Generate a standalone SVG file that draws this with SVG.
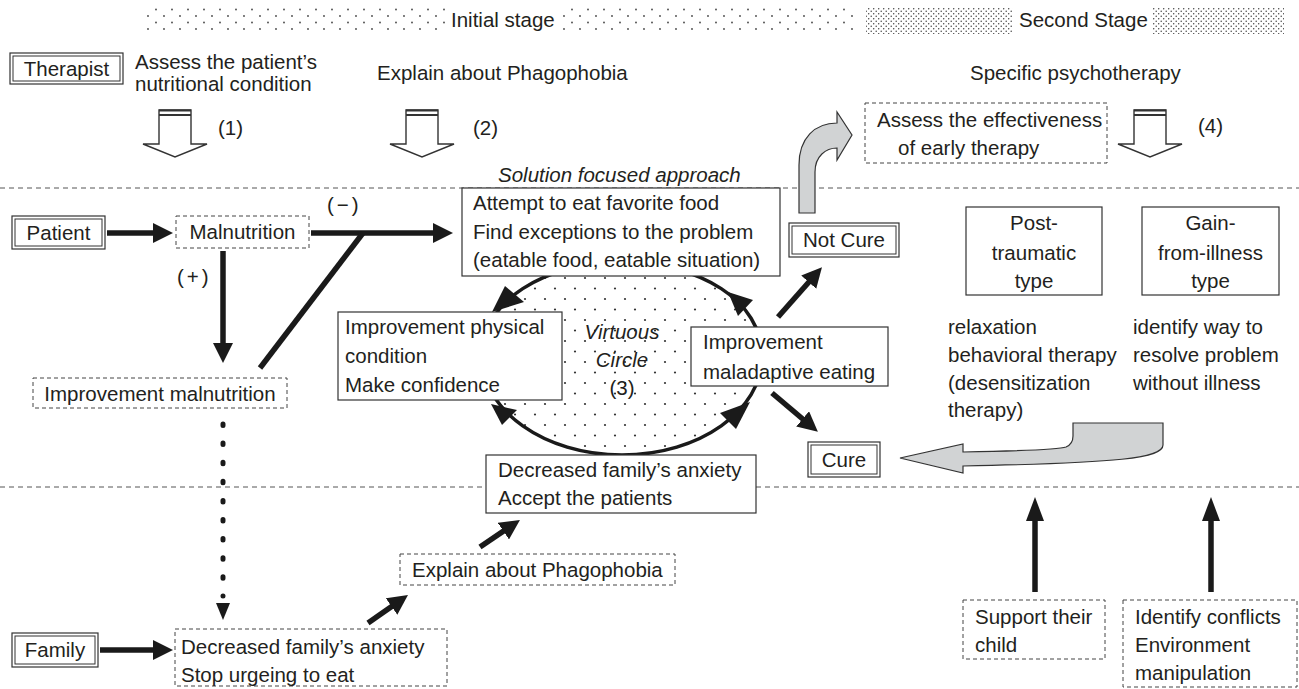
<svg xmlns="http://www.w3.org/2000/svg" width="1299" height="689" viewBox="0 0 1299 689">
<style>
.t{font-family:"Liberation Sans",Arial,sans-serif;font-size:20.5px;fill:#231f20}
.c{text-anchor:middle}
.i{font-style:italic}
.box{fill:#fff;stroke:#333;stroke-width:1.2}
.dbox{fill:#fff;stroke:#444;stroke-width:1;stroke-dasharray:4 3}
.div{stroke:#555;stroke-width:1;stroke-dasharray:5 4;fill:none}
.thick{stroke:#1a1a1a;stroke-width:5.5;fill:none}
.hollow{fill:#fff;stroke:#333;stroke-width:1.4}
.gray{fill:#d1d3d4;stroke:#333;stroke-width:1.2}
.head{fill:#1a1a1a}
</style>
<defs>
<pattern id="sparse" width="16" height="13" patternUnits="userSpaceOnUse"><circle cx="4" cy="3" r="0.9" fill="#444"/><circle cx="12" cy="9.5" r="0.9" fill="#444"/></pattern>
<pattern id="dense" width="5" height="5" patternUnits="userSpaceOnUse"><circle cx="1.2" cy="1.2" r="0.75" fill="#444"/><circle cx="3.7" cy="3.7" r="0.75" fill="#444"/></pattern>
<pattern id="circdots" width="20" height="21" patternUnits="userSpaceOnUse"><circle cx="5" cy="5" r="1.1" fill="#333"/><circle cx="15" cy="15.5" r="1.1" fill="#333"/></pattern>
<marker id="ah" viewBox="0 0 20 20" refX="11" refY="10" markerWidth="20" markerHeight="20" markerUnits="userSpaceOnUse" orient="auto"><path d="M0,0 L20,10 L0,20 Z" fill="#1a1a1a"/></marker>
<marker id="ahu" viewBox="0 0 24 18" refX="12" refY="9" markerWidth="24" markerHeight="18" markerUnits="userSpaceOnUse" orient="auto"><path d="M0,0 L24,9 L0,18 Z" fill="#1a1a1a"/></marker>
</defs>
<rect width="1299" height="689" fill="#fff"/>

<g id="banner">
<rect x="141" y="7" width="716" height="27" fill="url(#sparse)"/>
<rect x="866" y="7" width="418" height="27" fill="url(#dense)"/>
<rect x="446" y="5" width="117" height="30" fill="#fff"/>
<rect x="1013" y="5" width="140" height="30" fill="#fff"/>
<text class="t" x="451" y="27">Initial stage</text>
<text class="t" x="1019" y="27">Second Stage</text>
</g>

<g id="dividers">
<line class="div" x1="0" y1="188" x2="1299" y2="188"/>
<line class="div" x1="0" y1="487" x2="1299" y2="487"/>
</g>

<g id="virtuous-circle">
<path d="M622,263 C700,263 762,300 762,357 C762,410 700,455 622,455 C544,455 482,410 482,357 C482,300 544,263 622,263 Z" fill="url(#circdots)" stroke="#1a1a1a" stroke-width="3.5"/>
<text class="t i c" x="622" y="339">Virtuous</text>
<text class="t i c" x="622" y="367">Circle</text>
<text class="t c" x="622" y="395">(3)</text>
</g>

<g id="therapist">
<rect class="box" x="10" y="53" width="113" height="31"/>
<rect fill="none" stroke="#333" stroke-width="1" x="13" y="56" width="107" height="25"/>
<text class="t c" x="66.5" y="76">Therapist</text>
</g>
<g id="assess-nutrition">
<text class="t" x="135" y="69">Assess the patient’s</text>
<text class="t" x="135" y="91">nutritional condition</text>
</g>
<g id="explain-top"><text class="t" x="377" y="80">Explain about Phagophobia</text></g>
<g id="specific"><text class="t" x="970" y="80">Specific psychotherapy</text></g>

<g id="step1">
<polygon class="hollow" points="159,110 191,110 191,144 207,144 175,157 143,144 159,144"/>
<line x1="159" y1="110.5" x2="191" y2="110.5" stroke="#333" stroke-width="2"/>
<line x1="159" y1="115" x2="191" y2="115" stroke="#333" stroke-width="2"/>
<text class="t" x="218" y="135">(1)</text>
</g>
<g id="step2">
<polygon class="hollow" points="406,110 438,110 438,144 454,144 422,157 390,144 406,144"/>
<line x1="406" y1="110.5" x2="438" y2="110.5" stroke="#333" stroke-width="2"/>
<line x1="406" y1="115" x2="438" y2="115" stroke="#333" stroke-width="2"/>
<text class="t" x="473" y="135">(2)</text>
</g>
<g id="step4">
<polygon class="hollow" points="1134,110 1166,110 1166,144 1182,144 1150,157 1118,144 1134,144"/>
<line x1="1134" y1="110.5" x2="1166" y2="110.5" stroke="#333" stroke-width="2"/>
<line x1="1134" y1="115" x2="1166" y2="115" stroke="#333" stroke-width="2"/>
<text class="t" x="1198" y="133">(4)</text>
</g>

<g id="assess-effect">
<rect class="dbox" x="865" y="103" width="242" height="60"/>
<text class="t" x="877" y="127">Assess the effectiveness</text>
<text class="t" x="898" y="155">of early therapy</text>
</g>

<g id="solution-label"><text class="t i" x="498" y="182">Solution focused approach</text></g>

<g id="connectors">
<line class="thick" x1="107" y1="233" x2="164" y2="233" marker-end="url(#ah)"/>
<line class="thick" x1="311" y1="233" x2="444" y2="233" marker-end="url(#ah)"/>
<line class="thick" x1="260" y1="368" x2="363" y2="233"/>
<line class="thick" x1="223" y1="251" x2="223" y2="354" marker-end="url(#ah)"/>
<line class="thick" x1="778" y1="317" x2="816" y2="274" marker-end="url(#ah)"/>
<line class="thick" x1="772" y1="393" x2="811" y2="426" marker-end="url(#ah)"/>
<line class="thick" x1="100" y1="650" x2="164" y2="650" marker-end="url(#ah)"/>
<line class="thick" x1="368" y1="623" x2="400.6" y2="600.2" marker-end="url(#ah)"/>
<line class="thick" x1="480" y1="547" x2="512.5" y2="525" marker-end="url(#ah)"/>
<line class="thick" x1="1035" y1="592" x2="1035" y2="509" stroke-width="6" marker-end="url(#ahu)"/>
<line class="thick" x1="1211" y1="592" x2="1211" y2="509" stroke-width="6" marker-end="url(#ahu)"/>
<line x1="223" y1="424" x2="223" y2="596" stroke="#1a1a1a" stroke-width="5" stroke-linecap="round" stroke-dasharray="1.5 17.6"/>
<polygon class="head" points="216,603 230,603 223,620"/>
<path class="gray" d="M799,213 L799,165 C799,138 815,123 837,123 L837,112 L852,135 L837,160 L837,148 C826,148 815,156 815,172 L815,213 Z"/>
<path class="gray" d="M963,452 C1020,451 1058,450 1066,447 Q1073,444 1073,436 L1073,423 L1163,423 L1163,445 C1163,458 1120,463 963,466 L963,473 L900,458 L963,444 Z"/>
<polygon class="head" points="492,312 505,286 524,302"/>
<polygon class="head" points="728,292 753,300 738,316"/>
<polygon class="head" points="491,404 502,425 517,410"/>
<polygon class="head" points="750,402 720,413 736,429"/>
</g>

<g id="patient">
<rect class="box" x="12" y="216" width="93" height="33"/>
<rect fill="none" stroke="#333" stroke-width="1" x="15" y="219" width="87" height="27"/>
<text class="t c" x="58.5" y="240">Patient</text>
</g>
<g id="malnutrition">
<rect class="dbox" x="176" y="216" width="133" height="32"/>
<text class="t c" x="242.5" y="239">Malnutrition</text>
</g>
<g id="minus"><text class="t" x="327" y="212" letter-spacing="3">(−)</text></g>
<g id="plus"><text class="t" x="177" y="284" letter-spacing="3">(+)</text></g>
<g id="improve-malnutrition">
<rect class="dbox" x="33" y="378" width="254" height="30"/>
<text class="t c" x="160" y="401">Improvement malnutrition</text>
</g>

<g id="attempt">
<rect class="box" x="462" y="188" width="318" height="88"/>
<text class="t" x="473" y="210">Attempt to eat favorite food</text>
<text class="t" x="473" y="239">Find exceptions to the problem</text>
<text class="t" x="473" y="267">(eatable food, eatable situation)</text>
</g>
<g id="improve-physical">
<rect class="box" x="338" y="312" width="224" height="88"/>
<text class="t" x="345" y="334">Improvement physical</text>
<text class="t" x="345" y="363">condition</text>
<text class="t" x="345" y="392">Make confidence</text>
</g>
<g id="improve-eating">
<rect class="box" x="691" y="327" width="197" height="59"/>
<text class="t" x="703" y="349">Improvement</text>
<text class="t" x="703" y="379">maladaptive eating</text>
</g>
<g id="not-cure">
<rect class="box" x="789" y="223" width="110" height="34"/>
<rect fill="none" stroke="#333" stroke-width="1" x="792" y="226" width="104" height="28"/>
<text class="t c" x="844" y="247">Not Cure</text>
</g>
<g id="cure">
<rect class="box" x="808" y="442" width="72" height="35"/>
<rect fill="none" stroke="#333" stroke-width="1" x="811" y="445" width="66" height="29"/>
<text class="t c" x="844" y="467">Cure</text>
</g>
<g id="post-traumatic">
<rect class="box" x="966" y="207" width="136" height="88"/>
<text class="t c" x="1034" y="230">Post-</text>
<text class="t c" x="1034" y="260">traumatic</text>
<text class="t c" x="1034" y="288">type</text>
</g>
<g id="gain-from-illness">
<rect class="box" x="1142" y="207" width="137" height="88"/>
<text class="t c" x="1210.5" y="230">Gain-</text>
<text class="t c" x="1210.5" y="260">from-illness</text>
<text class="t c" x="1210.5" y="288">type</text>
</g>
<g id="relaxation">
<text class="t" x="948" y="334">relaxation</text>
<text class="t" x="948" y="362">behavioral therapy</text>
<text class="t" x="948" y="390">(desensitization</text>
<text class="t" x="948" y="417">therapy)</text>
</g>
<g id="identify-way">
<text class="t" x="1133" y="334">identify way to</text>
<text class="t" x="1133" y="362">resolve problem</text>
<text class="t" x="1133" y="390">without illness</text>
</g>

<g id="decreased-accept">
<rect class="box" x="486" y="455" width="270" height="58"/>
<text class="t" x="498" y="477">Decreased family’s anxiety</text>
<text class="t" x="498" y="505">Accept the patients</text>
</g>
<g id="explain-family">
<rect class="dbox" x="400" y="554" width="275" height="31"/>
<text class="t" x="412" y="577">Explain about Phagophobia</text>
</g>
<g id="family">
<rect class="box" x="12" y="633" width="86" height="34"/>
<rect fill="none" stroke="#333" stroke-width="1" x="15" y="636" width="80" height="28"/>
<text class="t c" x="55" y="657">Family</text>
</g>
<g id="decreased-stop">
<rect class="dbox" x="175" y="629" width="272" height="57"/>
<text class="t" x="181" y="654">Decreased family’s anxiety</text>
<text class="t" x="181" y="682">Stop urgeing to eat</text>
</g>
<g id="support">
<rect class="dbox" x="963" y="600" width="142" height="59"/>
<text class="t" x="975" y="624">Support their</text>
<text class="t" x="975" y="652">child</text>
</g>
<g id="identify-conflicts">
<rect class="dbox" x="1123" y="600" width="174" height="87"/>
<text class="t" x="1135" y="624">Identify conflicts</text>
<text class="t" x="1135" y="652">Environment</text>
<text class="t" x="1135" y="680">manipulation</text>
</g>
</svg>
